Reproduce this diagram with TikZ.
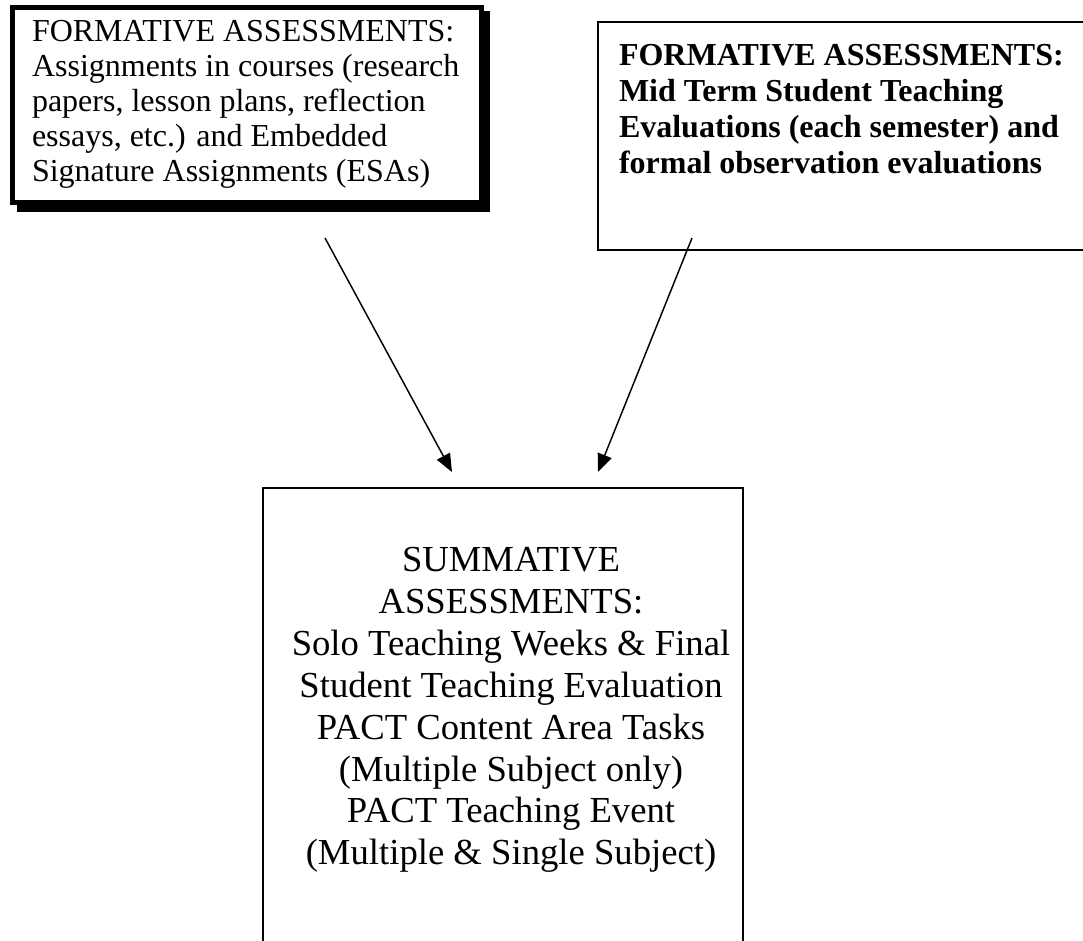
\documentclass[tikz,border=0pt]{standalone}
\usepackage{fontspec}
\setmainfont{Liberation Serif}
\usetikzlibrary{arrows.meta}
\begin{document}
\begin{tikzpicture}[x=0.75pt,y=-0.75pt,
  thinframe/.style={draw=black,line width=1.1pt},
  boxtext/.style={inner sep=0pt,outer sep=0pt},
  conn/.style={draw=black,line width=1.1pt,-{Triangle[length=13.5pt,width=11pt]}}]
\useasboundingbox[fill=white] (0,0) rectangle (1083,941);
% left box with shadow
\fill[black] (17,11) rectangle (490,212);
\draw[line width=3.75pt,fill=white] (12.5,7.5) rectangle (481.5,202.5);
\node[boxtext,anchor=north west,align=left,font=\fontsize{24}{26.25}\selectfont] (fa) at (32,20.5)
 {FORMATIVE ASSESSMENTS:\\Assignments in courses (research\\papers, lesson plans, reflection\\essays, etc.) and Embedded\\Signature Assignments (ESAs)};
% right box (cut at right edge)
\draw[thinframe] (1083,22) -| (598,250) -- (1083,250);
\node[boxtext,anchor=north west,align=left,font=\fontsize{24}{27.2}\selectfont\bfseries] (fb) at (619,44)
 {FORMATIVE ASSESSMENTS:\\Mid Term Student Teaching\\Evaluations (each semester) and\\formal observation evaluations};
% bottom box (cut at bottom edge)
\draw[thinframe] (263,941) |- (743,488) -- (743,941);
\node[boxtext,anchor=north,align=center,font=\fontsize{27.5}{31.4}\selectfont] (sa) at (511,547.5)
 {SUMMATIVE\\ASSESSMENTS:\\Solo Teaching Weeks \& Final\\Student Teaching Evaluation\\PACT Content Area Tasks\\(Multiple Subject only)\\PACT Teaching Event\\(Multiple \& Single Subject)};
% connectors
\coordinate (s1) at (325,238);
\coordinate (e1) at (452,472);
\coordinate (s2) at (692,238);
\coordinate (e2) at (598,472);
\draw[conn] (s1) -- (e1);
\draw[conn] (s2) -- (e2);
\end{tikzpicture}
\end{document}
